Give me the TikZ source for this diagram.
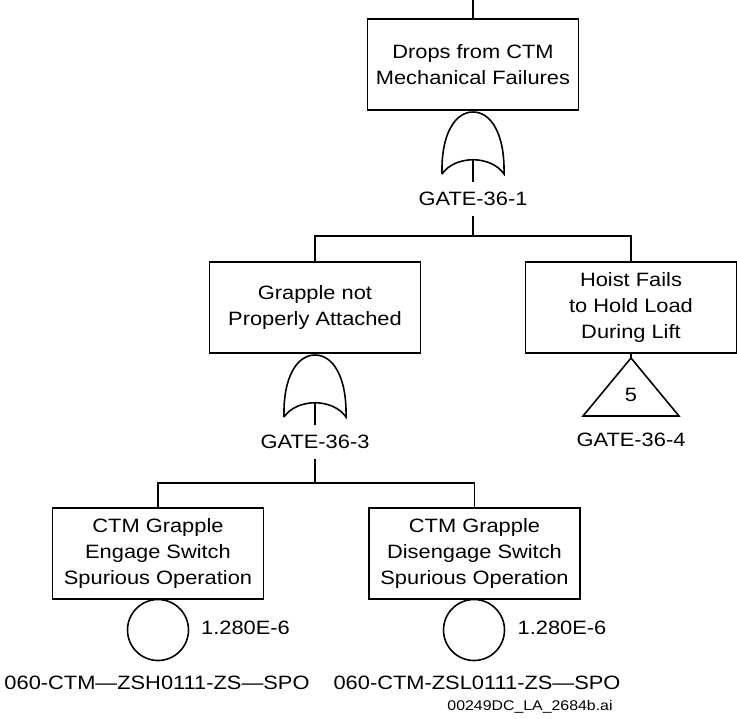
\documentclass[tikz,border=0pt]{standalone}
\usepackage{fontspec}
\setmainfont{Liberation Sans}[FakeStretch=1.13]
\usepackage{tikz}

\tikzset{
    event/.style={draw, minimum width=4.22cm, minimum height=1.82cm, align=center, inner sep=0pt},
    gatelabel/.style={inner sep=5pt},
    basic/.style={draw, circle, line width=0.9pt, minimum size=1.22cm, inner sep=0pt},
    orgate/.pic={
        \draw [line width=0.9pt] (-31, 62) .. controls (-32, 22) and (-18, 0) .. (0, 0)
            .. controls (18, 0) and (32, 22) .. (31, 62)
            .. controls (18, 43) and (-18, 43) .. (-31, 62);
        \coordinate (-out) at (0, 47);
    }
}

\begin{document}
\begin{tikzpicture}[x=0.02cm, y=-0.02cm, line width=1.1pt, font=\fontsize{11}{14.7}\selectfont]
    \useasboundingbox (0, 0) rectangle (737, 718);
    % top event
    \coordinate (feed) at (473, 0);
    \node [event] (drops) at (473, 64.5) {Drops from CTM\\Mechanical Failures};
    \draw (feed) -- (drops);
    \pic (g1) at (473, 112) {orgate};
    \node [gatelabel] (g1lbl) at (473, 199) {GATE-36-1};
    \draw [line width=0.9pt] (g1-out) -- (g1lbl);

    % second level
    \node [event] (grapple) at (315, 307.5) {Grapple not\\Properly Attached};
    \node [event] (hoist) at (631, 307.5) {Hoist Fails\\to Hold Load\\During Lift};
    \coordinate (bar1) at (473, 236);
    \draw (g1lbl) -- (bar1);
    \draw (grapple) |- (bar1) -| (hoist);

    % transfer
    \coordinate (t4) at (631, 358);
    \draw (hoist) -- (t4);
    \draw [line width=0.9pt] (t4) -- ++(48, 58) -- ++(-96, 0) -- cycle;
    \node (t4num) at (631, 395) {5};
    \node [gatelabel] (g4lbl) at (631, 440) {GATE-36-4};

    \pic (g3) at (315, 355) {orgate};
    \node [gatelabel] (g3lbl) at (315, 442) {GATE-36-3};
    \draw [line width=0.9pt] (g3-out) -- (g3lbl);

    % basic events
    \node [event] (engage) at (158, 553.5) {CTM Grapple\\Engage Switch\\Spurious Operation};
    \node [event] (disengage) at (474.5, 553.5) {CTM Grapple\\Disengage Switch\\Spurious Operation};
    \coordinate (bar3) at (315, 483);
    \draw (g3lbl) -- (bar3);
    \draw (engage) |- (bar3) -| (disengage);

    \node [basic] (zsh) at (158, 630) {};
    \node [basic] (zsl) at (474, 630) {};
    \node [gatelabel] (zshp) at (245.5, 628) {1.280E-6};
    \node [gatelabel] (zslp) at (562, 628) {1.280E-6};
    \node [gatelabel] (zshid) at (157, 683) {060-CTM—ZSH0111-ZS—SPO};
    \node [gatelabel] (zslid) at (477, 683) {060-CTM-ZSL0111-ZS—SPO};
    \node [font=\fontsize{8}{9}\selectfont] (file) at (530, 707) {00249DC\_LA\_2684b.ai};
\end{tikzpicture}
\end{document}
